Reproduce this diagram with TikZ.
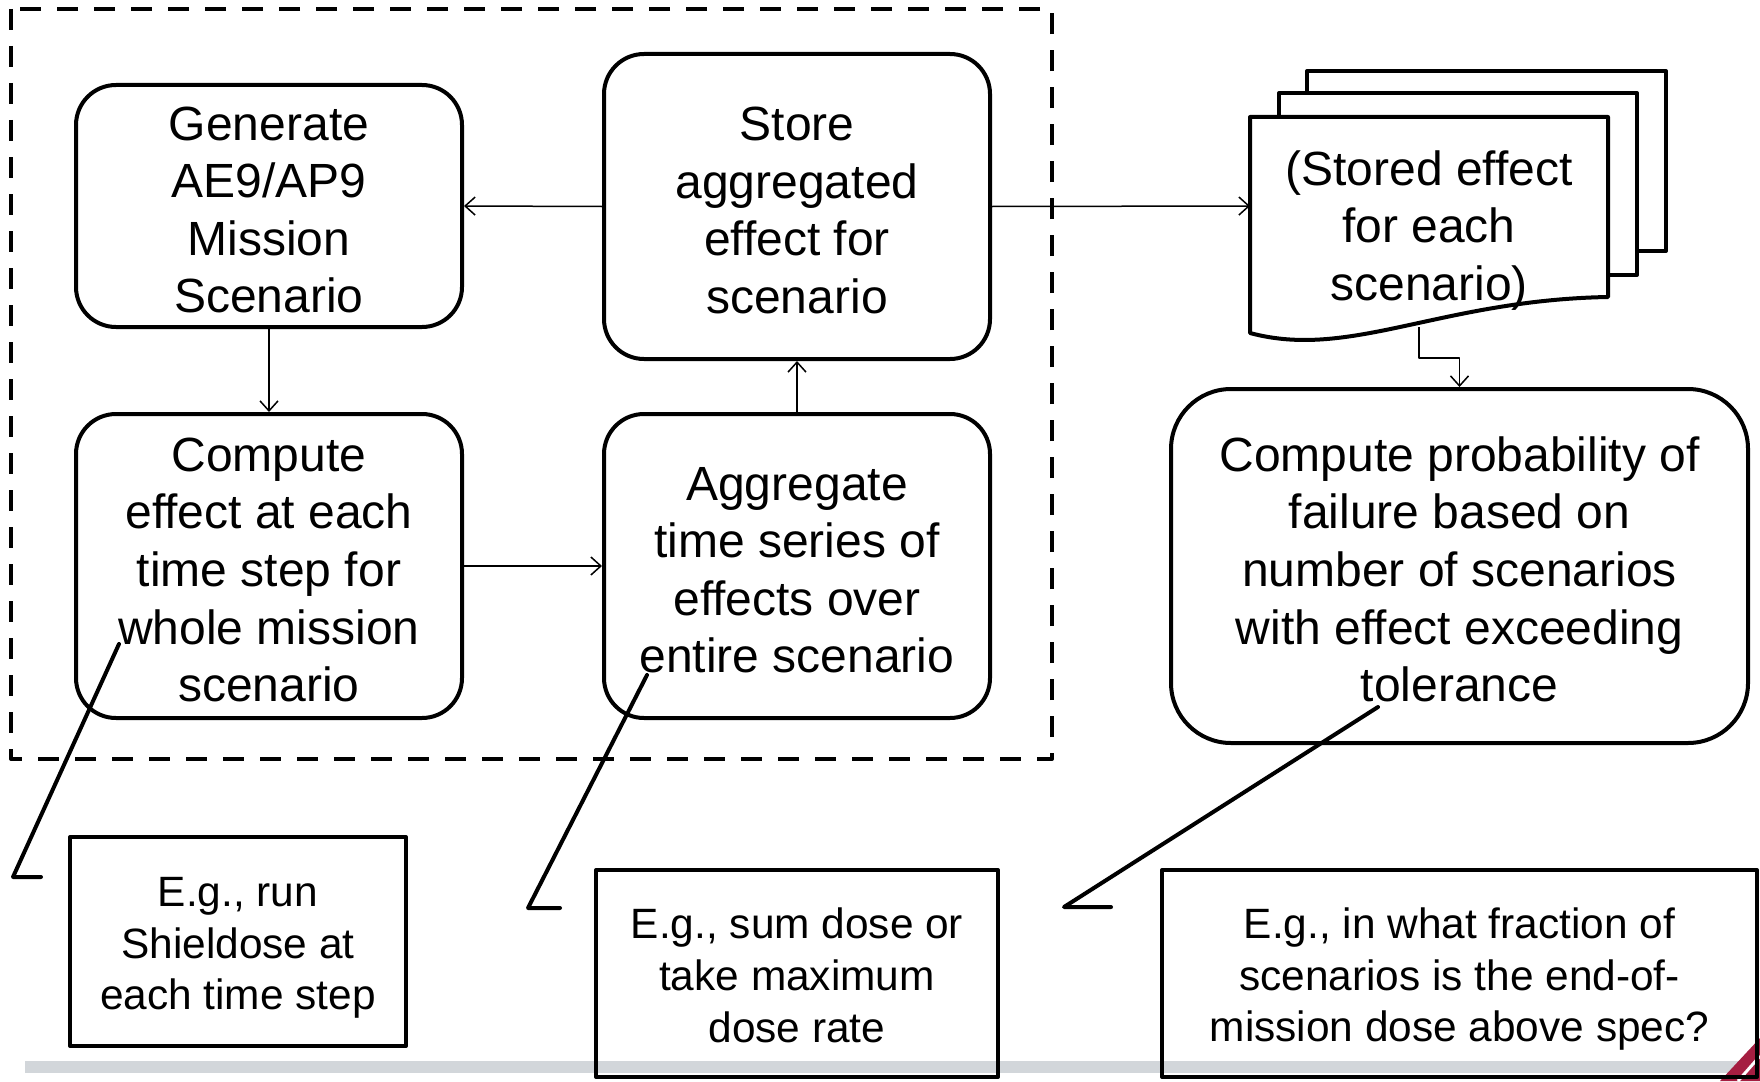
\documentclass[tikz,border=0pt]{standalone}
\usepackage{fontspec}
\setmainfont{Liberation Sans}
\usetikzlibrary{arrows.meta,positioning}
\definecolor{footgray}{RGB}{210,214,218}
\definecolor{logored}{RGB}{165,30,65}
\newcommand\steptop{\rule{0pt}{24.5pt}}
\newcommand\notetop{\rule{0pt}{21pt}}
\tikzset{
  stepbox/.style={draw, line width=2pt, rounded corners=20pt, inner sep=2pt, align=center, font=\fontsize{24}{28.8}\selectfont,
    execute at end node={\rule[-4pt]{0pt}{4pt}}},
  notebox/.style={draw, line width=2pt, inner sep=2pt, align=center, font=\fontsize{21.2}{25.8}\selectfont,
    execute at end node={\rule[-4pt]{0pt}{4pt}}},
  link/.style={line width=0.75pt, -{Straight Barb[length=5pt,width=9pt]}},
  pointer/.style={line width=2pt, line cap=round},
  page/.style={line width=2pt, fill=white},
}
\begin{document}
\begin{tikzpicture}[x=0.5pt, y=-0.5pt, line join=round]
\useasboundingbox (0,0) rectangle (1760,1081);
\fill[footgray] (25,1061) rectangle (1760,1073);
\fill[logored] (1760,1038) -- (1760,1081) -- (1720,1081) -- cycle;
\draw[white, line width=1.5pt] (1738,1081) -- (1760,1056);

\draw[line width=2pt, dash pattern=on 10.5pt off 8pt] (11,9) rectangle (1052,759);

\node[stepbox, minimum width=193pt, minimum height=121pt] (gen) at (269,206) {\steptop Generate\\AE9/AP9\\Mission\\Scenario};
\node[stepbox, minimum width=193pt, minimum height=152.5pt] (store) at (797,206.5) {\steptop Store\\aggregated\\effect for\\scenario};
\node[stepbox, minimum width=193pt, minimum height=152pt] (comp) at (269,566) {\steptop Compute\\effect at each\\time step for\\whole mission\\scenario};
\node[stepbox, minimum width=193pt, minimum height=152pt] (aggr) at (797,566) {\steptop Aggregate\\time series of\\effects over\\entire scenario};
\node[stepbox, minimum width=288.5pt, minimum height=177pt, rounded corners=30pt] (prob) at (1459.5,566) {\steptop Compute probability of\\failure based on\\number of scenarios\\with effect exceeding\\tolerance};

\draw[page] (1307,71) rectangle (1666,251);
\draw[page] (1279,93) rectangle (1637,275);
\draw[page] (1250,333) -- (1250,117) -- (1608,117) -- (1608,297) .. controls (1440,300) and (1350,360) .. (1250,333) -- cycle;
\node[align=center, font=\fontsize{24}{28.8}\selectfont] (docs) at (1429,230.5) {(Stored effect\\for each\\scenario)};
\coordinate (docin) at (1250,206);
\coordinate (docout) at (1419,327);

\draw[link] (store.west) -- (gen.east);
\draw[link] (gen.south) -- (comp.north);
\draw[link] (comp.east) -- (aggr.west);
\draw[link] (aggr.north) -- (store.south);
\draw[link] (store.east) -- (docin);
\draw[link] (docout) -- ++(0,31) -| (prob.north);

\node[notebox, minimum width=168pt, minimum height=104.5pt] (note1) at (238,941.5) {\notetop E.g., run\\Shieldose at\\each time step};
\node[notebox, minimum width=201pt, minimum height=103.5pt] (note2) at (797,973.5) {\notetop E.g., sum dose or\\take maximum\\dose rate};
\node[notebox, minimum width=297.5pt, minimum height=103.5pt] (note3) at (1459.5,973.5) {\notetop E.g., in what fraction of\\scenarios is the end-of-\\mission dose above spec?};

\coordinate (tip1) at (119,644);
\coordinate (elb1) at (13,877);
\coordinate (foot1) at (41,877);
\coordinate (tip2) at (647,675);
\coordinate (elb2) at (528,908);
\coordinate (foot2) at (560,908);
\coordinate (tip3) at (1378,707);
\coordinate (elb3) at (1064,907);
\coordinate (foot3) at (1111,907);
\draw[pointer] (tip1) -- (elb1) -- (foot1);
\draw[pointer] (tip2) -- (elb2) -- (foot2);
\draw[pointer] (tip3) -- (elb3) -- (foot3);
\end{tikzpicture}
\end{document}
